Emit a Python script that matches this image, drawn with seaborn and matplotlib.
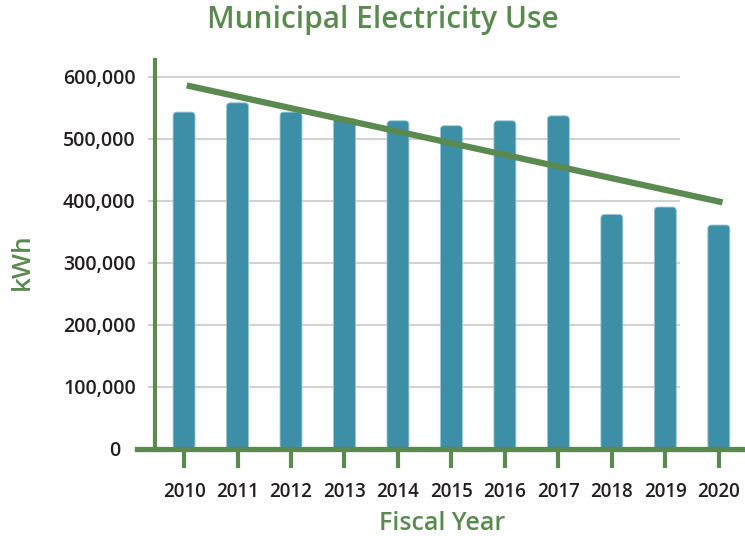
import numpy as np
import pandas as pd
import matplotlib
matplotlib.use("Agg")
import matplotlib.pyplot as plt
import seaborn as sns
from matplotlib.patches import FancyBboxPatch
from matplotlib.transforms import ScaledTranslation

years = ["2010", "2011", "2012", "2013", "2014", "2015", "2016", "2017", "2018", "2019", "2020"]
kwh = [543000, 558000, 543000, 533000, 529000, 521000, 529000, 537000, 378000, 390000, 361000]
yticks = [0, 100000, 200000, 300000, 400000, 500000, 600000]

GREEN = "#5a8a50"
BAR = "#3d8fa7"
TXT = "#231f20"

sns.set_style("white")
plt.rcParams["font.family"] = ["Open Sans", "DejaVu Sans"]

df = pd.DataFrame({"year": years, "kwh": kwh})

fig = plt.figure(figsize=(7.45, 5.36), dpi=100)
ax = fig.add_axes([137 / 745, (536 - 449) / 536, (745 - 137) / 745, (449 - 60) / 536])

sns.barplot(data=df, x="year", y="kwh", color=BAR, width=0.41, saturation=1, ax=ax, zorder=3)

xlim = (-0.88, 10.49)
ax.set_xlim(*xlim)
ax.set_ylim(0, 627000)

# rounded tops
px_per_x = (745 - 137) / (xlim[1] - xlim[0])
px_per_y = (449 - 60) / 627000
for p in list(ax.patches):
    x0, y0, w, h = p.get_x(), p.get_y(), p.get_width(), p.get_height()
    p.remove()
    fb = FancyBboxPatch((x0, y0), w, h, boxstyle="round,pad=0,rounding_size=0.07",
                        mutation_aspect=px_per_x / px_per_y, facecolor=BAR, edgecolor="#9cc6d3",
                        linewidth=0.6, zorder=3)
    ax.add_patch(fb)

# gridlines
ax.hlines(yticks[1:], -0.67, 9.27, color="#d2d2d2", linewidth=1.5, zorder=1)

# linear trend line (least squares fit of the data)
xs = np.arange(len(kwh))
m, b = np.polyfit(xs, kwh, 1)
xa, xb = xs[0] + 0.05, xs[-1] + 0.07
ax.plot([xa, xb], [m * xa + b, m * xb + b],
        color=GREEN, linewidth=4.5, zorder=4, solid_capstyle="butt")

for s in ["top", "right"]:
    ax.spines[s].set_visible(False)
ax.spines["left"].set_position(("data", -0.54))
ax.spines["left"].set_color(GREEN)
ax.spines["left"].set_linewidth(3)
ax.spines["left"].set_zorder(5)
ax.spines["bottom"].set_color(GREEN)
ax.spines["bottom"].set_linewidth(3.8)
ax.spines["bottom"].set_zorder(5)

ax.set_yticks(yticks)
ax.set_yticklabels([f"{v:,}" for v in yticks])
ax.tick_params(axis="y", left=False, length=0, pad=14, labelsize=14, labelcolor=TXT)
ax.tick_params(axis="x", bottom=True, length=14, width=3, color=GREEN, direction="out", pad=10,
               labelsize=13.5, labelcolor=TXT)
for lab in ax.get_yticklabels() + ax.get_xticklabels():
    lab.set_fontweight("semibold")
zero = ax.get_yticklabels()[0]
zero.set_transform(zero.get_transform() + ScaledTranslation(-11 / 72, 0, fig.dpi_scale_trans))

ax.set_xlabel("")
ax.set_ylabel("")
fig.text(442 / 745, 1 - 523 / 536, "Fiscal Year", color=GREEN, fontsize=18,
         ha="center", va="center", fontweight="semibold")
fig.text(22 / 745, 1 - 262 / 536, "kWh", color=GREEN, fontsize=19, rotation=90,
         ha="center", va="center", fontweight="semibold")
fig.text(383 / 745, 1 - 20 / 536, "Municipal Electricity Use", color=GREEN, fontsize=21.5,
         ha="center", va="center", fontweight="semibold")

fig.savefig("out.png", dpi=100)
